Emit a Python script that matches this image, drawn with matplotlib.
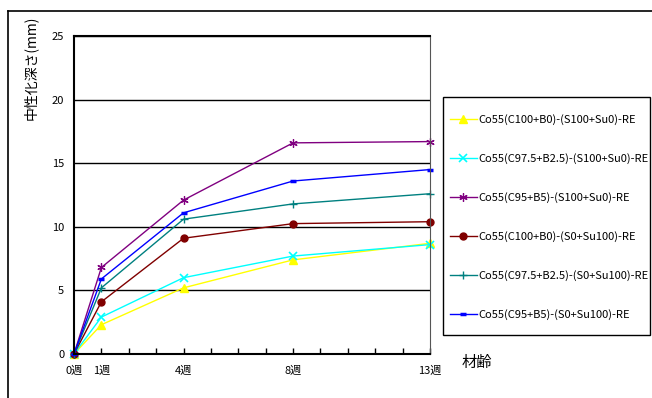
import matplotlib
matplotlib.use("Agg")
import matplotlib.pyplot as plt
from matplotlib.lines import Line2D
from matplotlib.patches import Rectangle

plt.rcParams['font.family'] = ['Noto Sans CJK JP', 'DejaVu Sans']

# age in weeks and neutralization depth (mm)
weeks = [0, 1, 4, 8, 13]
week_labels = ['0週', '1週', '4週', '8週', '13週']

series_names = [
    'Co55(C100+B0)-(S100+Su0)-RE',
    'Co55(C97.5+B2.5)-(S100+Su0)-RE',
    'Co55(C95+B5)-(S100+Su0)-RE',
    'Co55(C100+B0)-(S0+Su100)-RE',
    'Co55(C97.5+B2.5)-(S0+Su100)-RE',
    'Co55(C95+B5)-(S0+Su100)-RE',
]
depth_c100_s100 = [0, 2.3, 5.2, 7.4, 8.7]
depth_c975_s100 = [0, 2.9, 6.0, 7.7, 8.6]
depth_c95_s100 = [0, 6.8, 12.1, 16.6, 16.7]
depth_c100_su100 = [0, 4.1, 9.1, 10.25, 10.4]
depth_c975_su100 = [0, 5.2, 10.6, 11.8, 12.6]
depth_c95_su100 = [0, 5.9, 11.1, 13.6, 14.5]

all_depths = [depth_c100_s100, depth_c975_s100, depth_c95_s100,
              depth_c100_su100, depth_c975_su100, depth_c95_su100]
colors = ['#FFFF00', '#00FFFF', '#800080', '#800000', '#008080', '#0000FF']
markers = ['^', 'x', (6, 2, 0), 'o', '+', '_']
msizes = [6, 6, 6, 5, 6, 4]
mews = [1, 1.2, 0.9, 1, 1, 2.5]

fig = plt.figure(figsize=(6.52, 3.98), dpi=100)
ax = fig.add_axes([0.1135, 0.1106, 0.546, 0.7989])

for d, c, m, ms, mw, name in zip(all_depths, colors, markers, msizes, mews, series_names):
    ax.plot(weeks, d, color=c, marker=m, markersize=ms, linewidth=1,
            markeredgewidth=mw, label=name, clip_on=False)

ax.set_xlim(0, 13)
ax.set_ylim(0, 25)
ax.set_yticks([0, 5, 10, 15, 20, 25])
ax.set_xticks(weeks)
ax.set_xticklabels(week_labels)
ax.set_xticks(range(14), minor=True)
ax.yaxis.grid(True, color='black', linewidth=1)
ax.set_axisbelow(True)
ax.tick_params(axis='x', which='both', direction='in', length=4, width=1,
               labelsize=8, pad=8)
ax.tick_params(axis='y', length=0, labelsize=8, pad=7)
for s in ['left', 'bottom', 'top']:
    ax.spines[s].set_linewidth(1.5)
ax.spines['right'].set_color('#555555')

fig.text(0.046, 0.83, '中性化深さ(mm)', rotation=90, ha='center', va='center', fontsize=10)
fig.text(0.732, 0.09, '材齢', ha='center', va='center', fontsize=11)

# legend box drawn separately so that the vertical padding can be larger
fig.add_artist(Rectangle((0.6795, 0.1583), 0.3175, 0.598, transform=fig.transFigure,
                         fill=False, edgecolor='black', linewidth=1))
leg = fig.legend(loc='upper left', bbox_to_anchor=(0.69, 0.714), fontsize=8,
                 frameon=False, handlelength=2.4, labelspacing=2.53, borderpad=0,
                 handletextpad=0.2, borderaxespad=0)

# outer chart-area frame (top and left visible)
fig.add_artist(Line2D([0.0125, 1.0], [0.972, 0.972], color='black', linewidth=1.2))
fig.add_artist(Line2D([0.0125, 0.0125], [0.0, 0.972], color='black', linewidth=1.2))

fig.savefig('out.png', dpi=100)
